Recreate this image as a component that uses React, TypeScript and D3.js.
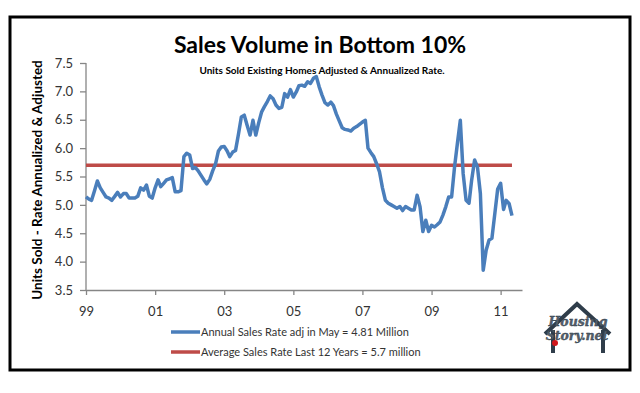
import { useEffect, useRef } from 'react';
import * as d3 from 'd3';

// monthly annualized existing home sales (millions), Jan 1999 .. May 2011
const sales1999 = [5.14, 5.10, 5.08, 5.25, 5.42, 5.30, 5.22, 5.14, 5.12, 5.08, 5.15, 5.22];
const sales2000 = [5.14, 5.20, 5.20, 5.12, 5.12, 5.12, 5.15, 5.30, 5.26, 5.35, 5.15, 5.12];
const sales2001 = [5.30, 5.44, 5.32, 5.38, 5.44, 5.46, 5.48, 5.23, 5.23, 5.25, 5.85, 5.91];
const sales2002 = [5.88, 5.64, 5.66, 5.60, 5.52, 5.44, 5.37, 5.45, 5.60, 5.72, 5.95, 6.02];
const sales2003 = [6.03, 5.95, 5.85, 5.93, 5.96, 6.25, 6.55, 6.58, 6.40, 6.23, 6.49, 6.23];
const sales2004 = [6.45, 6.64, 6.73, 6.82, 6.92, 6.87, 6.76, 6.70, 6.72, 6.96, 6.90, 7.03];
const sales2005 = [6.90, 6.99, 7.10, 7.11, 7.09, 7.17, 7.14, 7.23, 7.26, 7.08, 6.93, 6.80];
const sales2006 = [6.76, 6.81, 6.75, 6.60, 6.48, 6.36, 6.33, 6.32, 6.30, 6.35, 6.38, 6.42];
const sales2007 = [6.46, 6.49, 6.00, 5.92, 5.85, 5.72, 5.58, 5.30, 5.08, 5.03, 5.00, 4.97];
const sales2008 = [4.94, 4.97, 4.90, 4.97, 4.94, 4.91, 4.91, 5.17, 4.97, 4.53, 4.73, 4.53];
const sales2009 = [4.64, 4.61, 4.65, 4.70, 4.82, 4.97, 5.14, 5.14, 5.67, 6.08, 6.49, 5.55];
const sales2010 = [5.08, 5.03, 5.44, 5.79, 5.67, 5.20, 3.85, 4.20, 4.38, 4.41, 4.85, 5.28];
const sales2011 = [5.38, 4.92, 5.08, 5.02, 4.81];

const salesRate = [
  ...sales1999, ...sales2000, ...sales2001, ...sales2002, ...sales2003,
  ...sales2004, ...sales2005, ...sales2006, ...sales2007, ...sales2008,
  ...sales2009, ...sales2010, ...sales2011,
];

const averageRate = 5.7;
const firstMonth = new Date(1999, 0, 1);
const axisEnd = new Date(2011, 7, 15);

const yTicks = [3.5, 4.0, 4.5, 5.0, 5.5, 6.0, 6.5, 7.0, 7.5];
const xTickYears = [1999, 2001, 2003, 2005, 2007, 2009, 2011];

const chartTitle = 'Sales Volume in Bottom 10%';
const chartSubtitle = 'Units Sold Existing Homes Adjusted & Annualized Rate.';
const yAxisTitle = 'Units Sold - Rate Annualized & Adjusted';
const legendLabels = [
  'Annual Sales Rate adj in May = 4.81 Million',
  'Average Sales Rate Last 12 Years = 5.7 million',
];
const logoLines = ['Housing', 'Story.net'];

const blue = '#4a7ebb';
const red = '#be4b48';
const font = 'Lato, "Open Sans", sans-serif';

const App = () => {
  const ref = useRef<SVGSVGElement>(null);

  useEffect(() => {
    const svg = d3.select(ref.current);
    svg.selectAll('*').remove();

    // frame
    svg.append('rect')
      .attr('x', 10).attr('y', 17)
      .attr('width', 620).attr('height', 353)
      .attr('fill', 'white')
      .attr('stroke', 'black')
      .attr('stroke-width', 3);

    const x = d3.scaleTime().domain([firstMonth, axisEnd]).range([86, 522]);
    const y = d3.scaleLinear().domain([3.5, 7.5]).range([290, 63]);

    const data = salesRate.map((v, i) => ({ date: d3.timeMonth.offset(firstMonth, i), v }));

    // axes
    const yAxis = svg.append('g')
      .attr('transform', 'translate(86,0)')
      .call(d3.axisLeft(y).tickValues(yTicks).tickFormat(d3.format('.1f')).tickSize(6).tickPadding(7));
    const xAxis = svg.append('g')
      .attr('transform', 'translate(0,290)')
      .call(d3.axisBottom(x)
        .tickValues(xTickYears.map(yr => new Date(yr, 0, 1)))
        .tickFormat(d => d3.timeFormat('%y')(d as Date))
        .tickSize(5).tickPadding(12)
        .tickSizeOuter(0));
    [yAxis, xAxis].forEach(g => {
      g.selectAll('path, line').attr('stroke', '#868686').attr('stroke-width', 1.3);
      g.selectAll('text')
        .attr('font-family', font)
        .attr('font-size', 13)
        .attr('fill', '#333');
    });
    yAxis.select('.domain').attr('d', 'M0,290V63');

    // average line
    svg.append('line')
      .attr('x1', x(firstMonth)).attr('x2', x(data[data.length - 1].date))
      .attr('y1', y(averageRate)).attr('y2', y(averageRate))
      .attr('stroke', red).attr('stroke-width', 3.5);

    const line = d3.line<{ date: Date; v: number }>()
      .x(d => x(d.date))
      .y(d => y(d.v));

    svg.append('path')
      .datum(data)
      .attr('fill', 'none')
      .attr('stroke', blue)
      .attr('stroke-width', 3.5)
      .attr('stroke-linejoin', 'round')
      .attr('d', line);

    // titles
    svg.append('text')
      .attr('x', 320).attr('y', 53)
      .attr('text-anchor', 'middle')
      .attr('font-family', font).attr('font-weight', 'bold').attr('font-size', 23)
      .text(chartTitle);
    svg.append('text')
      .attr('x', 322).attr('y', 74)
      .attr('text-anchor', 'middle')
      .attr('font-family', font).attr('font-weight', 'bold').attr('font-size', 10)
      .text(chartSubtitle);
    svg.append('text')
      .attr('transform', 'translate(42,180) rotate(-90)')
      .attr('text-anchor', 'middle')
      .attr('font-family', font).attr('font-weight', 'bold').attr('font-size', 13.5)
      .text(yAxisTitle);

    // legend
    const legend = svg.append('g');
    [blue, red].forEach((c, i) => {
      const ly = 332 + i * 20;
      legend.append('line')
        .attr('x1', 171).attr('x2', 200)
        .attr('y1', ly).attr('y2', ly)
        .attr('stroke', c).attr('stroke-width', 3.5);
      legend.append('text')
        .attr('x', 201).attr('y', ly + 4)
        .attr('font-family', font).attr('font-size', 11)
        .attr('fill', '#333')
        .text(legendLabels[i]);
    });

    // logo
    const logo = svg.append('g');
    logo.append('path')
      .attr('d', 'M553,353 V330 M545,334 L577,304 L610,334 M603,330 V353')
      .attr('fill', 'none')
      .attr('stroke', '#2f3d4a')
      .attr('stroke-width', 4);
    logoLines.forEach((t, i) => {
      logo.append('text')
        .attr('x', 578 - i).attr('y', 326 + i * 14)
        .attr('text-anchor', 'middle')
        .attr('font-family', '"DejaVu Serif", serif').attr('font-style', 'italic').attr('font-weight', 'bold')
        .attr('font-size', 12.5)
        .attr('fill', '#55606b').attr('stroke', '#2f3d4a').attr('stroke-width', 0.35)
        .text(t);
    });
    logo.append('circle')
      .attr('cx', 555).attr('cy', 343).attr('r', 3)
      .attr('fill', '#d0161b');
  }, []);

  return (
    <svg ref={ref} width={640} height={393}
      style={{ position: 'absolute', left: 0, top: 0, background: 'white' }} />
  );
};

export default App;
